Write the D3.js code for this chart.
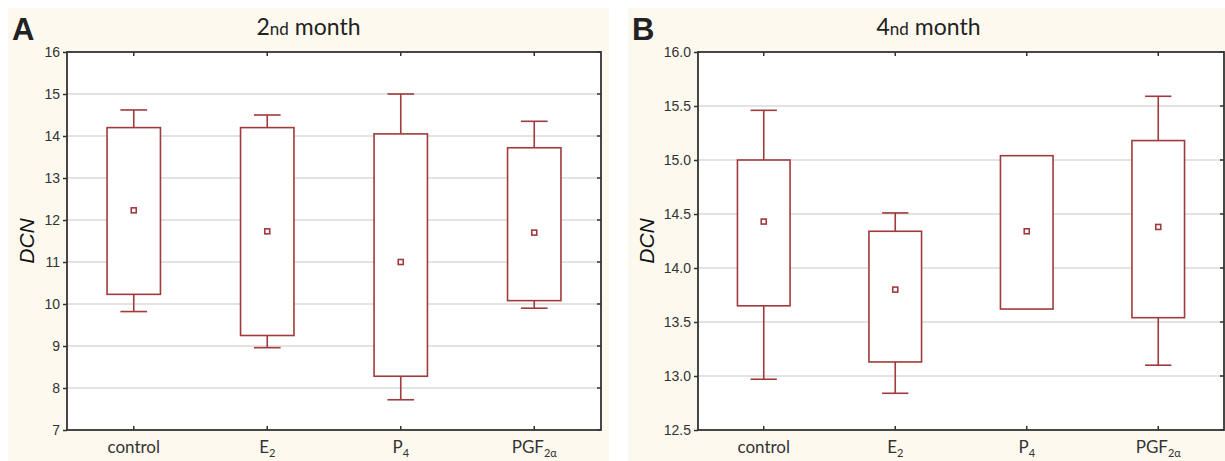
<!DOCTYPE html>
<html>
<head>
<meta charset="utf-8">
<script src="https://cdn.jsdelivr.net/npm/d3@7"></script>
<style>
  body { margin: 0; background: #fff; }
</style>
</head>
<body>
<div id="chart"></div>
<script>
// categories (base text + subscript)
const catBase = ["control", "E", "P", "PGF"];
const catSub = ["", "2", "4", "2\u03b1"];

// 2nd month
const m2WhiskerLow = [9.82, 8.96, 7.72, 9.90];
const m2BoxLow = [10.23, 9.25, 8.28, 10.08];
const m2Mean = [12.23, 11.73, 11.00, 11.70];
const m2BoxHigh = [14.20, 14.20, 14.05, 13.72];
const m2WhiskerHigh = [14.62, 14.50, 15.00, 14.35];
const m2Ticks = [7, 8, 9, 10, 11, 12, 13, 14, 15, 16];

// 4th month (P4 has no whiskers drawn)
const m4WhiskerLow = [12.97, 12.84, 13.62, 13.10];
const m4BoxLow = [13.65, 13.13, 13.62, 13.54];
const m4Mean = [14.43, 13.80, 14.34, 14.38];
const m4BoxHigh = [15.00, 14.34, 15.04, 15.18];
const m4WhiskerHigh = [15.46, 14.51, 15.04, 15.59];
const m4Ticks = [12.5, 13.0, 13.5, 14.0, 14.5, 15.0, 15.5, 16.0];

const W = 1225, H = 461;
const boxColor = "#a03a3c";
const axisColor = "#333";

const svg = d3.select("#chart").append("svg")
  .attr("width", W).attr("height", H);

function drawPanel(p) {
  const g = svg.append("g");

  // cream panel background
  g.append("rect")
    .attr("x", p.bgX).attr("y", 8)
    .attr("width", p.bgW).attr("height", H - 8)
    .attr("fill", "#fdf9ee");

  // letter
  g.append("text")
    .attr("x", p.bgX + 4).attr("y", 40)
    .attr("font-family", "Liberation Sans, Arial, sans-serif")
    .attr("font-weight", "bold").attr("font-size", 31)
    .attr("fill", "#222")
    .text(p.letter);

  // title: large number, smaller "nd"
  const title = g.append("text")
    .attr("x", p.bgX + p.bgW / 2).attr("y", 35)
    .attr("text-anchor", "middle")
    .attr("font-family", "Lato, sans-serif")
    .attr("font-size", 23).attr("fill", "#222");
  title.append("tspan").text(p.titleNum);
  title.append("tspan").attr("font-size", 17).text("nd");
  title.append("tspan").text(" month");

  const x = d3.scaleBand()
    .domain(d3.range(catBase.length))
    .range([p.left, p.right]);
  const y = d3.scaleLinear()
    .domain(p.domain)
    .range([p.bottom, p.top]);

  // plot area
  g.append("rect")
    .attr("x", p.left).attr("y", p.top)
    .attr("width", p.right - p.left).attr("height", p.bottom - p.top)
    .attr("fill", "#fff");

  // gridlines
  g.selectAll(".grid")
    .data(p.ticks.slice(1, -1))
    .join("line")
      .attr("x1", p.left).attr("x2", p.right)
      .attr("y1", d => y(d)).attr("y2", d => y(d))
      .attr("stroke", "#dadada").attr("stroke-width", 1.5);

  // left axis
  const yAxis = d3.axisLeft(y)
    .tickValues(p.ticks)
    .tickFormat(d => p.fmt(d))
    .tickSize(4).tickSizeOuter(0).tickPadding(3);
  const ay = g.append("g")
    .attr("transform", `translate(${p.left},0)`)
    .call(yAxis);
  ay.select(".domain").remove();
  ay.selectAll("line").attr("stroke", axisColor).attr("stroke-width", 1.5);
  ay.selectAll("text")
    .attr("font-family", "Liberation Sans, Arial, sans-serif")
    .attr("font-size", 14).attr("fill", "#333");

  // right inner ticks
  g.selectAll(".rtick")
    .data(p.ticks)
    .join("line")
      .attr("x1", p.right - 4).attr("x2", p.right)
      .attr("y1", d => y(d)).attr("y2", d => y(d))
      .attr("stroke", axisColor).attr("stroke-width", 1.5);

  // top and bottom inner ticks at categories
  const cx = i => x(i) + x.bandwidth() / 2;
  g.selectAll(".ttick")
    .data(d3.range(catBase.length))
    .join("line")
      .attr("x1", cx).attr("x2", cx)
      .attr("y1", p.top).attr("y2", p.top + 4)
      .attr("stroke", axisColor).attr("stroke-width", 1.5);
  g.selectAll(".btick")
    .data(d3.range(catBase.length))
    .join("line")
      .attr("x1", cx).attr("x2", cx)
      .attr("y1", p.bottom - 4).attr("y2", p.bottom)
      .attr("stroke", axisColor).attr("stroke-width", 1.5);

  // frame
  g.append("rect")
    .attr("x", p.left).attr("y", p.top)
    .attr("width", p.right - p.left).attr("height", p.bottom - p.top)
    .attr("fill", "none").attr("stroke", axisColor).attr("stroke-width", 1.8);

  // category labels
  const lab = g.selectAll(".cat")
    .data(d3.range(catBase.length))
    .join("text")
      .attr("x", cx).attr("y", p.bottom + 23)
      .attr("text-anchor", "middle")
      .attr("font-family", "Lato, sans-serif")
      .attr("font-size", 17).attr("fill", "#333");
  lab.append("tspan").text(i => catBase[i]);
  lab.append("tspan")
    .attr("font-size", 11).attr("dy", 3.5)
    .text(i => catSub[i]);

  // y title
  g.append("text")
    .attr("transform", `translate(${p.bgX + 26},${(p.top + p.bottom) / 2})`
      + " rotate(-90)")
    .attr("text-anchor", "middle")
    .attr("font-family", "Liberation Sans, Arial, sans-serif")
    .attr("font-style", "italic").attr("font-size", 21)
    .attr("fill", "#111")
    .text("DCN");

  // boxes
  const bw = x.bandwidth() * 0.4, cw = x.bandwidth() * 0.2;
  const idx = d3.range(catBase.length);
  const st = sel => sel.attr("stroke", boxColor).attr("stroke-width", 1.6);

  st(g.selectAll(".wh").data(idx).join("line")
    .attr("x1", cx).attr("x2", cx)
    .attr("y1", i => y(p.boxHigh[i])).attr("y2", i => y(p.whiskerHigh[i])));
  st(g.selectAll(".wl").data(idx).join("line")
    .attr("x1", cx).attr("x2", cx)
    .attr("y1", i => y(p.boxLow[i])).attr("y2", i => y(p.whiskerLow[i])));
  st(g.selectAll(".ch").data(idx.filter(i => p.whiskerHigh[i] > p.boxHigh[i])).join("line")
    .attr("x1", i => cx(i) - cw / 2).attr("x2", i => cx(i) + cw / 2)
    .attr("y1", i => y(p.whiskerHigh[i])).attr("y2", i => y(p.whiskerHigh[i])));
  st(g.selectAll(".cl").data(idx.filter(i => p.whiskerLow[i] < p.boxLow[i])).join("line")
    .attr("x1", i => cx(i) - cw / 2).attr("x2", i => cx(i) + cw / 2)
    .attr("y1", i => y(p.whiskerLow[i])).attr("y2", i => y(p.whiskerLow[i])));
  st(g.selectAll(".box").data(idx).join("rect")
    .attr("x", i => cx(i) - bw / 2).attr("width", bw)
    .attr("y", i => y(p.boxHigh[i]))
    .attr("height", i => y(p.boxLow[i]) - y(p.boxHigh[i]))
    .attr("fill", "#fff"));
  st(g.selectAll(".mean").data(idx).join("rect")
    .attr("x", i => cx(i) - 2.5).attr("width", 5)
    .attr("y", i => y(p.mean[i]) - 2.5).attr("height", 5)
    .attr("fill", "#fff"));
}

drawPanel({
  letter: "A", titleNum: "2", bgX: 8, bgW: 601,
  left: 67, right: 601, top: 52, bottom: 430,
  domain: [7, 16], ticks: m2Ticks, fmt: d3.format("d"),
  whiskerLow: m2WhiskerLow, boxLow: m2BoxLow, mean: m2Mean,
  boxHigh: m2BoxHigh, whiskerHigh: m2WhiskerHigh
});

drawPanel({
  letter: "B", titleNum: "4", bgX: 628, bgW: 601,
  left: 698, right: 1224, top: 52, bottom: 430,
  domain: [12.5, 16], ticks: m4Ticks, fmt: d3.format(".1f"),
  whiskerLow: m4WhiskerLow, boxLow: m4BoxLow, mean: m4Mean,
  boxHigh: m4BoxHigh, whiskerHigh: m4WhiskerHigh
});
</script>
</body>
</html>
